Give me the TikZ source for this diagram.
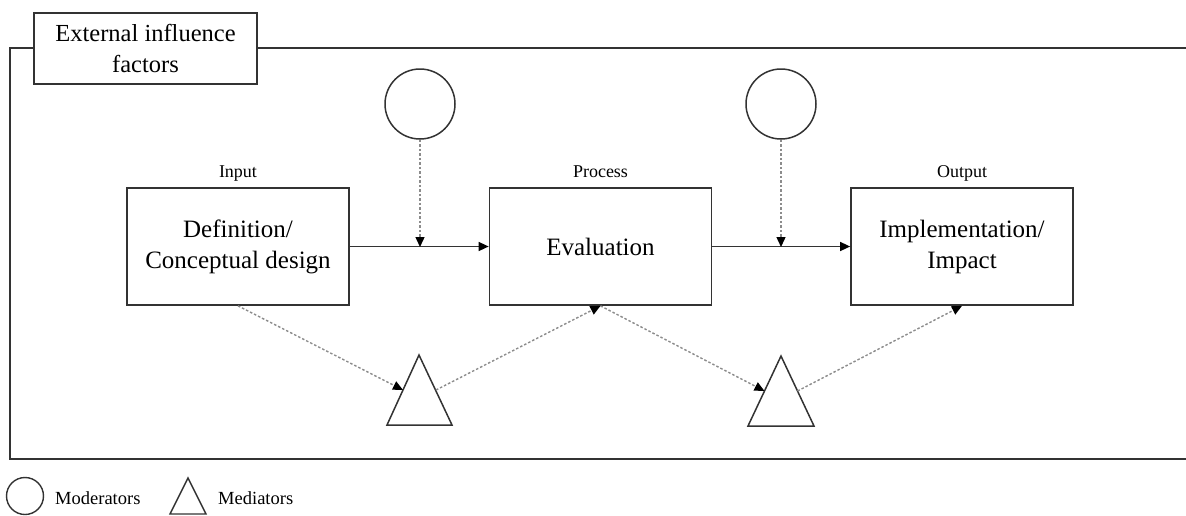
\documentclass[tikz,border=0pt]{standalone}
\usepackage{fontspec}
\setmainfont{Liberation Serif}
\usetikzlibrary{arrows.meta,calc}
\begin{document}
\begin{tikzpicture}[x=1pt,y=-1pt,
 frame/.style={draw=black!80, line width=1.7pt},
 procbox/.style={draw=black!80, line width=1.7pt, minimum width=222pt, minimum height=117pt, align=center, font=\fontsize{25}{31}\selectfont, inner sep=0pt},
 labelbox/.style={draw=black!80, fill=white, line width=1.7pt, minimum width=223pt, minimum height=71pt, align=center, font=\fontsize{24.5}{31}\selectfont, inner sep=0pt},
 modcirc/.style={circle, draw=black!80, line width=1.5pt, minimum size=70pt, inner sep=0pt},
 tri/.style={draw=black!80, line width=1.5pt, line join=miter},
 smalltext/.style={font=\fontsize{18}{21}\selectfont, inner sep=0pt},
 legendtext/.style={font=\fontsize{18.5}{21}\selectfont, inner sep=0pt},
 solidarrow/.style={draw=black!80, line width=1.4pt, -{Triangle[length=10pt,width=9pt,color=black]}},
 dotarrow/.style={draw=black!45, line width=1.4pt, dash pattern=on 2.5pt off 2pt, -{Triangle[length=10pt,width=9pt,color=black]}},
]
\useasboundingbox (0,0) rectangle (1186,515);

% outer frame
\draw[frame] (1186,48) -- (10,48) -- (10,459) -- (1186,459);
\node[labelbox] (ext) at (145.5,48.5) {External influence\\factors};

% process boxes
\node[procbox] (b1) at (238,246.5) {Definition/\\Conceptual design};
\node[procbox] (b2) at (600.5,246.5) {Evaluation};
\node[procbox] (b3) at (962,246.5) {Implementation/\\Impact};

\node[smalltext, anchor=base] (lin) at (238,177) {Input};
\node[smalltext, anchor=base] (lproc) at (600.5,177) {Process};
\node[smalltext, anchor=base] (lout) at (962,177) {Output};

% moderators
\node[modcirc] (c1) at (420,104) {};
\node[modcirc] (c2) at (781,104) {};
\coordinate (m1) at (420,247);
\coordinate (m2) at (781,247);

\draw[solidarrow] (b1.east) -- (b2.west);
\draw[solidarrow] (b2.east) -- (b3.west);
\draw[dotarrow] (c1.south) -- (m1);
\draw[dotarrow] (c2.south) -- (m2);

% mediators
\draw[tri] (419,355) -- (452,425) -- (387,425) -- cycle;
\draw[tri] (781,356) -- (814,426) -- (748,426) -- cycle;
\coordinate (t1l) at (403,390);
\coordinate (t1r) at (436,390);
\coordinate (t2l) at (764.5,391);
\coordinate (t2r) at (797.5,391);

\draw[dotarrow] (b1.south) -- (t1l);
\draw[dotarrow] (t1r) -- (b2.south);
\draw[dotarrow] (b2.south) -- (t2l);
\draw[dotarrow] (t2r) -- (b3.south);

% legend
\node[circle, draw=black!80, line width=1.4pt, minimum size=37pt, inner sep=0pt] (lc) at (25,496) {};
\node[legendtext, anchor=base west] (lmod) at (55,504) {Moderators};
\draw[tri, line width=1.4pt] (188,478) -- (206,514) -- (170,514) -- cycle;
\node[legendtext, anchor=base west] (lmed) at (218,504) {Mediators};
\end{tikzpicture}
\end{document}
